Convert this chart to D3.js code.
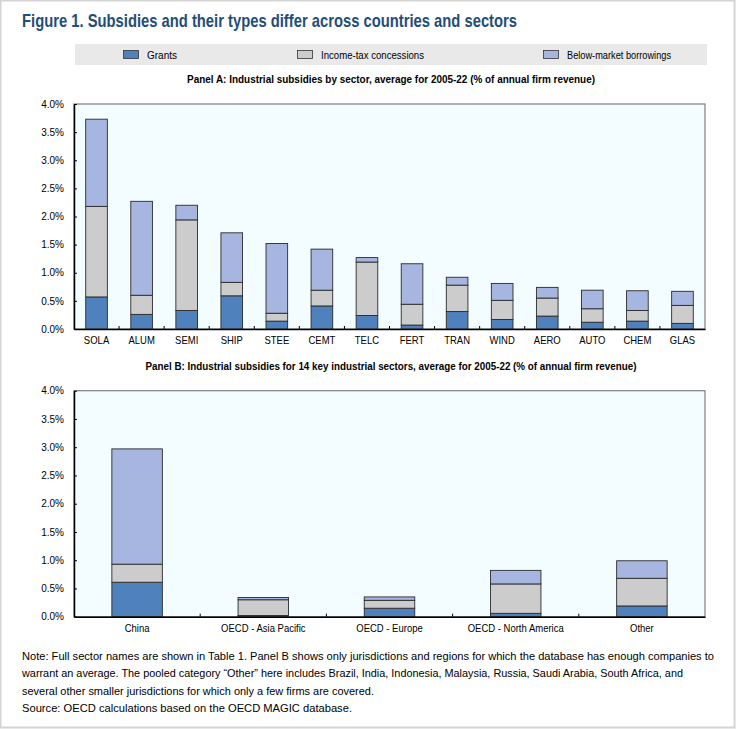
<!DOCTYPE html>
<html>
<head>
<meta charset="utf-8">
<script src="https://cdn.jsdelivr.net/npm/d3@7"></script>
<style>
  body { margin: 0; background: #fff; }
  svg { display: block; }
  .narrow { font-family: "Liberation Sans", Arial, sans-serif; }
  .tick text { font-family: "Liberation Sans", Arial, sans-serif; font-size: 10px; fill: #000; }
</style>
</head>
<body>
<svg id="chart" width="737" height="730"></svg>
<script>
// Panel A: sectors
const sectors = ["SOLA", "ALUM", "SEMI", "SHIP", "STEE", "CEMT", "TELC", "FERT", "TRAN", "WIND", "AERO", "AUTO", "CHEM", "GLAS"];
const sectorGrants = [0.57, 0.26, 0.33, 0.59, 0.14, 0.41, 0.24, 0.07, 0.31, 0.17, 0.23, 0.12, 0.14, 0.10];
const sectorTax    = [1.61, 0.34, 1.61, 0.24, 0.14, 0.28, 0.95, 0.37, 0.47, 0.34, 0.32, 0.24, 0.19, 0.32];
const sectorBorrow = [1.55, 1.67, 0.26, 0.88, 1.24, 0.73, 0.08, 0.72, 0.14, 0.30, 0.19, 0.33, 0.35, 0.25];

// Panel B: jurisdictions
const regions = ["China", "OECD - Asia Pacific", "OECD - Europe", "OECD - North America", "Other"];
const regionGrants = [0.61, 0.02, 0.15, 0.06, 0.19];
const regionTax    = [0.32, 0.28, 0.14, 0.52, 0.49];
const regionBorrow = [2.04, 0.04, 0.06, 0.24, 0.31];

const seriesNames = ["Grants", "Income-tax concessions", "Below-market borrowings"];
const yTicks = [0, 0.5, 1, 1.5, 2, 2.5, 3, 3.5, 4];

const colors = ["#4f81bd", "#cccccc", "#a7b6e0"];
const keys = ["g", "t", "b"];

const svg = d3.select("#chart");

// no narrow font installed, so squeeze text to the widths seen in the figure
function narrowText(sel, width) {
    sel.attr("textLength", width).attr("lengthAdjust", "spacingAndGlyphs");
}

// frame
svg.append("rect")
    .attr("x", 0.5).attr("y", 0.5)
    .attr("width", 734).attr("height", 727)
    .attr("fill", "none")
    .attr("stroke", "#d4d4d4")
    .attr("stroke-width", 2);

svg.append("text")
    .attr("class", "narrow")
    .attr("x", 22).attr("y", 27)
    .attr("font-size", 19)
    .attr("font-weight", "bold")
    .attr("fill", "#1f4e79")
    .text("Figure 1. Subsidies and their types differ across countries and sectors")
    .call(narrowText, 495);

// legend
const legend = svg.append("g");
legend.append("rect")
    .attr("x", 75).attr("y", 44)
    .attr("width", 632).attr("height", 21)
    .attr("fill", "#e9e9e9");
const legendX = [123, 297, 543];
const legendW = [30, 103, 104];
seriesNames.forEach((name, i) => {
    legend.append("rect")
        .attr("x", legendX[i] + 0.5).attr("y", 50.5)
        .attr("width", 15).attr("height", 8)
        .attr("fill", colors[i])
        .attr("stroke", "#333").attr("stroke-width", 0.8);
    legend.append("text")
        .attr("class", "narrow")
        .attr("x", legendX[i] + 24).attr("y", 58.5)
        .attr("font-size", 11)
        .text(name)
        .call(narrowText, legendW[i]);
});

const x0 = 74, x1 = 705;

function drawPanel(opts) {
    const { title, titleW, titleY, top, bottom, cats, grants, tax, borrow, padding } = opts;
    const g = svg.append("g");

    g.append("text")
        .attr("class", "narrow")
        .attr("x", 391).attr("y", titleY)
        .attr("text-anchor", "middle")
        .attr("font-size", 11.5)
        .attr("font-weight", "bold")
        .text(title)
        .call(narrowText, titleW);

    const x = d3.scaleBand().domain(cats).range([x0, x1]).paddingInner(padding).paddingOuter(padding / 2);
    const y = d3.scaleLinear().domain([0, 4]).range([bottom, top]);

    g.append("rect")
        .attr("x", x0).attr("y", top)
        .attr("width", x1 - x0).attr("height", bottom - top)
        .attr("fill", "#f3fcff")
        .attr("stroke", "#7f7f7f")
        .attr("stroke-width", 1.2);

    const data = cats.map((c, i) => ({ cat: c, g: grants[i], t: tax[i], b: borrow[i] }));
    const stacked = d3.stack().keys(keys)(data);

    g.selectAll(".layer")
        .data(stacked)
        .join("g")
        .attr("fill", (d, i) => colors[i])
        .selectAll("rect")
        .data(d => d)
        .join("rect")
        .attr("x", d => x(d.data.cat))
        .attr("width", x.bandwidth())
        .attr("y", d => y(d[1]))
        .attr("height", d => y(d[0]) - y(d[1]))
        .attr("stroke", "#2b2b2b")
        .attr("stroke-width", 0.9);

    const yAxis = d3.axisLeft(y)
        .tickValues(yTicks)
        .tickFormat(d => d3.format(".1f")(d) + "%")
        .tickSizeInner(-3)
        .tickSizeOuter(0)
        .tickPadding(10);
    const ya = g.append("g").attr("transform", `translate(${x0},0)`).call(yAxis);
    ya.select(".domain").attr("stroke", "#000").attr("stroke-width", 1.5);
    ya.selectAll(".tick line").attr("stroke", "#000");

    const xa = d3.axisBottom(x).tickSize(0).tickPadding(8);
    const xg = g.append("g").attr("transform", `translate(0,${bottom})`).call(xa);
    xg.select(".domain").attr("stroke", "#000").attr("stroke-width", 1.5);
    xg.selectAll(".tick text").attr("transform", "scale(0.95,1)");

    // small separators between categories
    const sepX = (d, i) => x0 + (i + 1) * (x1 - x0) / cats.length;
    g.selectAll(".sep")
        .data(cats.slice(1))
        .join("line")
        .attr("x1", sepX)
        .attr("x2", sepX)
        .attr("y1", bottom).attr("y2", bottom - 3)
        .attr("stroke", "#000");
}

drawPanel({
    title: "Panel A: Industrial subsidies by sector, average for 2005-22 (% of annual firm revenue)",
    titleW: 408, titleY: 83, top: 104, bottom: 329,
    cats: sectors, grants: sectorGrants, tax: sectorTax, borrow: sectorBorrow,
    padding: 0.52
});

drawPanel({
    title: "Panel B: Industrial subsidies for 14 key industrial sectors, average for 2005-22 (% of annual firm revenue)",
    titleW: 491, titleY: 370, top: 390.7, bottom: 616.7,
    cats: regions, grants: regionGrants, tax: regionTax, borrow: regionBorrow,
    padding: 0.6
});

const notes = [
    "Note: Full sector names are shown in Table 1. Panel B shows only jurisdictions and regions for which the database has enough companies to",
    "warrant an average. The pooled category \u201cOther\u201d here includes Brazil, India, Indonesia, Malaysia, Russia, Saudi Arabia, South Africa, and",
    "several other smaller jurisdictions for which only a few firms are covered.",
    "Source: OECD calculations based on the OECD MAGIC database."
];
const noteW = [692, 661, 352, 330];
svg.append("g").selectAll("text")
    .data(notes)
    .join("text")
    .attr("class", "narrow")
    .attr("x", 22)
    .attr("y", (d, i) => 660 + i * 17.3)
    .attr("font-size", 11)
    .attr("textLength", (d, i) => noteW[i])
    .attr("lengthAdjust", "spacingAndGlyphs")
    .text(d => d);
</script>
</body>
</html>
